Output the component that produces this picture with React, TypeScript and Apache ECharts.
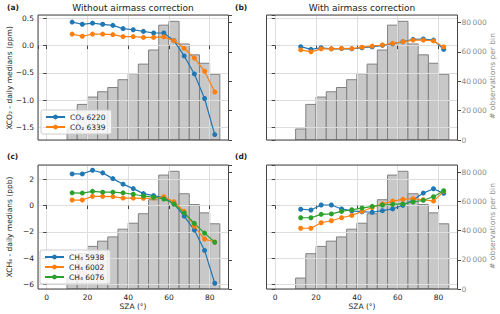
import React, { useEffect, useRef } from 'react';
import * as echarts from 'echarts';

const FONT = 'DejaVu Sans';

const binEdges = [10, 15, 20, 25, 30, 35, 40, 45, 50, 55, 60, 65, 70, 75, 80, 85];
const obsPerBin = [7500, 24200, 29200, 32800, 35700, 41000, 45100, 51600, 61200, 78100, 80700, 65300, 57900, 52200, 44700];

const sza = [12.5, 17.5, 22.5, 27.5, 32.5, 37.5, 42.5, 47.5, 52.5, 57.5, 62.5, 67.5, 72.5, 77.5, 82.5];

const co2_6220_raw = [0.43, 0.39, 0.41, 0.39, 0.37, 0.31, 0.29, 0.26, 0.23, 0.23, 0.09, -0.19, -0.52, -0.97, -1.63];
const co2_6339_raw = [0.21, 0.17, 0.21, 0.21, 0.2, 0.165, 0.165, 0.15, 0.15, 0.16, 0.09, -0.05, -0.23, -0.47, -0.85];
const co2_6220_corr = [-0.02, -0.07, -0.04, -0.06, -0.055, -0.06, -0.04, -0.025, 0.005, 0.03, 0.07, 0.115, 0.12, 0.1, -0.07];
const co2_6339_corr = [-0.08, -0.115, -0.06, -0.06, -0.05, -0.055, -0.03, -0.01, 0.01, 0.04, 0.07, 0.1, 0.1, 0.085, -0.025];

const ch4_5938_raw = [2.41, 2.41, 2.69, 2.49, 2.05, 1.63, 1.29, 0.91, 0.76, 0.61, 0.13, -0.81, -1.87, -3.42, -5.92];
const ch4_6002_raw = [0.42, 0.42, 0.7, 0.7, 0.68, 0.57, 0.57, 0.55, 0.57, 0.67, 0.29, -0.44, -1.58, -2.55, -2.78];
const ch4_6076_raw = [0.97, 0.95, 1.08, 1.02, 1.02, 0.97, 0.86, 0.73, 0.63, 0.5, 0.12, -0.57, -1.36, -2.1, -2.8];
const ch4_5938_corr = [-0.28, -0.34, 0.04, 0.04, -0.26, -0.41, -0.47, -0.51, -0.39, -0.26, 0.02, 0.42, 0.95, 1.28, 0.93];
const ch4_6002_corr = [-1.73, -1.73, -1.31, -1.16, -0.93, -0.75, -0.45, -0.15, 0.13, 0.34, 0.47, 0.52, 0.44, 0.34, 1.08];
const ch4_6076_corr = [-0.93, -0.93, -0.67, -0.64, -0.45, -0.32, -0.19, -0.06, 0.04, 0.09, 0.12, 0.27, 0.4, 0.67, 1.13];

const co2Names = ['CO₂ 6220', 'CO₂ 6339'];
const ch4Names = ['CH₄ 5938', 'CH₄ 6002', 'CH₄ 6076'];
const colors = ['#1f77b4', '#ff7f0e', '#2ca02c'];

const xMin = -4.25;
const xMax = 89.25;
const co2Range = [-1.73, 0.56];
const ch4Range = [-6.36, 3.09];
const histMax = 85000;

const grids = [
  { left: 38, top: 15, width: 190.5, height: 125 },
  { left: 266.5, top: 15, width: 191, height: 125 },
  { left: 38, top: 165, width: 190.5, height: 124 },
  { left: 266.5, top: 165, width: 191, height: 124 },
];

const fmtMinus = (s: string) => s.replace('-', '\u2212');

export default function App() {
  const ref = useRef<HTMLDivElement>(null);
  useEffect(() => {
    if (!ref.current) return;
    const chart = echarts.init(ref.current, null, { renderer: 'svg' });

    const tick = { show: true, inside: false, length: 3.5, lineStyle: { color: '#444', width: 1 } };
    const labelBase = { fontSize: 7.5, fontFamily: FONT, color: '#222', showMinLabel: false, showMaxLabel: false };

    const xAxis = grids.map((_, gi) => ({
      type: 'value',
      gridIndex: gi,
      min: xMin,
      max: xMax,
      z: 3,
      axisLine: { show: false },
      axisTick: tick,
      axisLabel: { ...labelBase, show: gi >= 2, margin: 4 },
      splitLine: { show: true, lineStyle: { color: '#dedede', width: 1 } },
    }));

    const leftY = grids.map((_, gi) => {
      const r = gi < 2 ? co2Range : ch4Range;
      return {
        type: 'value',
        gridIndex: gi,
        position: 'left',
        min: r[0],
        max: r[1],
        z: 3,
        axisLine: { show: false },
        axisTick: tick,
        axisLabel: {
          ...labelBase,
          show: gi % 2 === 0,
          margin: 4,
          formatter: (v: number) => {
            if (Math.abs(v) < 1e-9) return gi < 2 ? '0.0' : '0';
            return fmtMinus(gi < 2 ? v.toFixed(1) : String(Math.round(v)));
          },
        },
        splitLine: { show: true, lineStyle: { color: '#dedede', width: 1 } },
      };
    });

    const rightY = grids.map((_, gi) => ({
      type: 'value',
      gridIndex: gi,
      position: 'right',
      min: 0,
      max: histMax,
      z: 3,
      axisLine: { show: false },
      axisTick: tick,
      axisLabel: {
        ...labelBase,
        color: '#8a8a8a',
        show: gi % 2 === 1,
        showMinLabel: true,
        margin: 4,
        formatter: (v: number) => (v === 0 ? '0' : `${Math.round(v / 1000)}\u2009000`),
      },
      splitLine: { show: false },
    }));

    const series: any[] = [];
    grids.forEach((_, gi) => {
      series.push({
        type: 'custom',
        xAxisIndex: gi,
        yAxisIndex: 4 + gi,
        z: 1,
        silent: true,
        encode: { x: [0, 1], y: 2 },
        data: obsPerBin.map((c, i) => [binEdges[i], binEdges[i + 1], c]),
        renderItem: (params: any, api: any) => {
          const p0 = api.coord([api.value(0), api.value(2)]);
          const p1 = api.coord([api.value(1), 0]);
          return {
            type: 'rect',
            shape: { x: p0[0], y: p0[1], width: p1[0] - p0[0], height: p1[1] - p0[1] },
            style: { fill: '#c8c8c8', stroke: '#808080', lineWidth: 1 },
          };
        },
      });
    });

    const lineSets: [number, string[], number[][]][] = [
      [0, co2Names, [co2_6220_raw, co2_6339_raw]],
      [1, co2Names, [co2_6220_corr, co2_6339_corr]],
      [2, ch4Names, [ch4_5938_raw, ch4_6002_raw, ch4_6076_raw]],
      [3, ch4Names, [ch4_5938_corr, ch4_6002_corr, ch4_6076_corr]],
    ];
    lineSets.forEach(([gi, names, arrs]) => {
      arrs.forEach((arr, k) => {
        series.push({
          type: 'line',
          name: names[k],
          xAxisIndex: gi,
          yAxisIndex: gi,
          z: 5,
          symbol: 'circle',
          symbolSize: 5,
          lineStyle: { width: 1.2, color: colors[k] },
          itemStyle: { color: colors[k] },
          data: sza.map((x, i) => [x, arr[i]]),
        });
      });
    });

    const legendBase = {
      orient: 'vertical',
      itemWidth: 19,
      itemHeight: 6,
      itemGap: 2,
      padding: [3, 6, 3, 4],
      backgroundColor: 'rgba(255,255,255,0.8)',
      borderColor: '#cccccc',
      borderWidth: 1,
      borderRadius: 2,
      textStyle: { fontSize: 7.5, fontFamily: FONT, color: '#222' },
      selectedMode: false,
      z: 10,
    };

    const txt = (text: string, x: number, y: number, extra: any = {}) => ({
      type: 'text',
      x,
      y,
      rotation: extra.rotation || 0,
      z: 20,
      style: {
        text,
        fontSize: extra.fontSize || 7.5,
        fontFamily: FONT,
        fontWeight: extra.fontWeight || 'normal',
        fill: extra.fill || '#222',
        align: extra.align || 'center',
        verticalAlign: 'middle',
      },
    });

    chart.setOption({
      animation: false,
      backgroundColor: '#ffffff',
      grid: grids.map((g) => ({ ...g, show: true, borderColor: '#444', borderWidth: 1, backgroundColor: 'transparent', z: 8 })),
      xAxis,
      yAxis: [...leftY, ...rightY],
      legend: [
        { ...legendBase, data: co2Names, left: 41, top: 110 },
        { ...legendBase, data: ch4Names, left: 40, top: 250 },
      ],
      series,
      graphic: [
        txt('(a)', 7, 7.5, { fontWeight: 'bold', align: 'left' }),
        txt('(b)', 235, 7.5, { fontWeight: 'bold', align: 'left' }),
        txt('(c)', 7, 156, { fontWeight: 'bold', align: 'left' }),
        txt('(d)', 235, 156, { fontWeight: 'bold', align: 'left' }),
        txt('Without airmass correction', 133, 8.3, { fontSize: 9 }),
        txt('With airmass correction', 362, 8.3, { fontSize: 9 }),
        txt('XCO₂ - daily medians (ppm)', 9, 78, { rotation: Math.PI / 2 }),
        txt('XCH₄ - daily medians (ppb)', 9, 227, { rotation: Math.PI / 2 }),
        txt('# observations per bin', 492, 76, { rotation: Math.PI / 2, fill: '#8a8a8a' }),
        txt('# observations per bin', 492, 226, { rotation: Math.PI / 2, fill: '#8a8a8a' }),
        txt('SZA (°)', 133, 306),
        txt('SZA (°)', 362, 306),
      ],
    });

    return () => chart.dispose();
  }, []);

  return <div ref={ref} style={{ position: 'fixed', left: 0, top: 0, width: 500, height: 314 }} />;
}
